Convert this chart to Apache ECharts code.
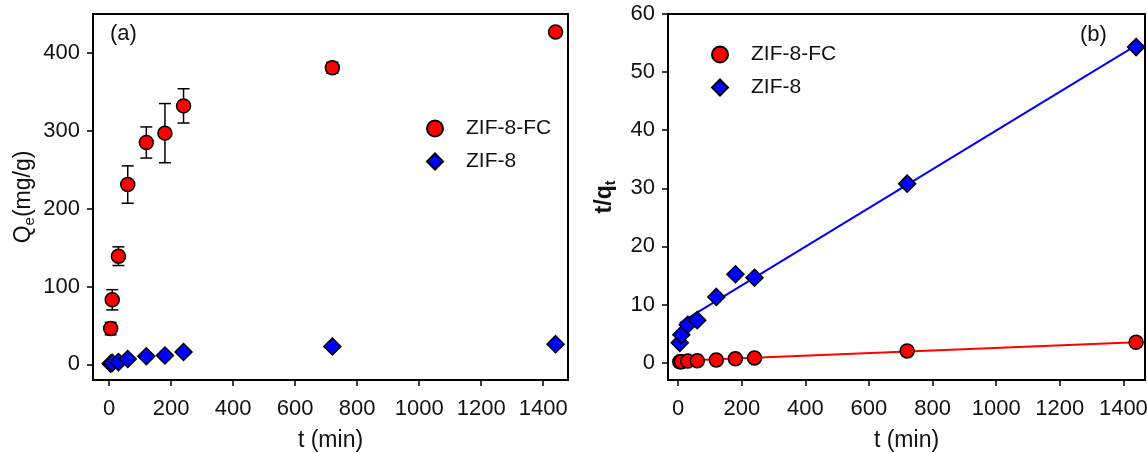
<!DOCTYPE html>
<html>
<head>
<meta charset="utf-8">
<script src="https://cdn.jsdelivr.net/npm/echarts@6/dist/echarts.min.js"></script>
<style>
  html, body { margin: 0; padding: 0; background: #fff; }
  #chart { width: 1147px; height: 453px; }
</style>
</head>
<body>
<div id="chart"></div>
<script>
// Sampling times (min)
const times = [5, 10, 30, 60, 120, 180, 240, 720, 1440];

// (a) adsorption capacity Qe (mg/g)
const qeFC = [46, 83, 139, 231, 285, 297, 332, 381, 427];
const qeFCErr = [8, 13, 12, 24, 20, 38, 22, 7, 3];
const qeZIF8 = [1, 2, 3, 7, 10.5, 11.5, 16, 23, 26];

// (b) pseudo-second-order plot t/qt
const tqFC = [0.15, 0.15, 0.25, 0.3, 0.45, 0.65, 0.8, 2.0, 3.5];
const tqZIF8 = [3.4, 4.8, 6.5, 7.3, 11.3, 15.2, 14.6, 30.8, 54.3];

// linear fits (end points)
const fitT = [5, 1440];
const fitFC = [0.3, 3.5];
const fitZIF8 = [6.8, 54.6];

// tick labels
const xTicks = [0, 200, 400, 600, 800, 1000, 1200, 1400];
const yTicksA = [0, 100, 200, 300, 400];
const yTicksB = [0, 10, 20, 30, 40, 50, 60];

const FONT = '"Liberation Sans", Arial, sans-serif';
const TXT = '#111';
const RED = '#ff0000';
const BLUE = '#0000ff';

const pairs = (xs, ys) => xs.map((x, i) => [x, ys[i]]);

function axisBase(ticks, margin) {
    return {
        type: 'value',
        axisLine: { show: false, onZero: false },
        axisTick: { show: true, customValues: ticks, length: 6, lineStyle: { color: '#000', width: 1.5 } },
        axisLabel: {
            customValues: ticks, color: TXT, fontSize: 22, fontFamily: FONT, margin: margin,
            formatter: v => String(v)
        },
        splitLine: { show: false },
        nameLocation: 'middle',
        nameTextStyle: { color: TXT, fontSize: 23, fontFamily: FONT }
    };
}

function errorBars(params, api) {
    const x = api.value(0), y = api.value(1), e = api.value(2);
    const lo = api.coord([x, y - e]);
    const hi = api.coord([x, y + e]);
    const w = 6;
    const style = { stroke: '#000', lineWidth: 1.5 };
    return {
        type: 'group',
        children: [
            { type: 'line', shape: { x1: lo[0], y1: lo[1], x2: hi[0], y2: hi[1] }, style: style },
            { type: 'line', shape: { x1: lo[0] - w, y1: lo[1], x2: lo[0] + w, y2: lo[1] }, style: style },
            { type: 'line', shape: { x1: hi[0] - w, y1: hi[1], x2: hi[0] + w, y2: hi[1] }, style: style }
        ]
    };
}

const chart = echarts.init(document.getElementById('chart'));

const fcStyle = { color: RED, borderColor: '#000', borderWidth: 1.5, opacity: 1 };
const zStyle = { color: BLUE, borderColor: '#000', borderWidth: 1.5, opacity: 1 };

const legendText = { color: TXT, fontSize: 21, fontFamily: FONT, padding: [0, 0, 0, 18] };

chart.setOption({
    animation: false,
    backgroundColor: '#fff',
    textStyle: { fontFamily: FONT },
    grid: [
        { left: 93, top: 14, width: 475, height: 366, outerBoundsMode: 'none', show: true, borderColor: '#000', borderWidth: 2, backgroundColor: 'transparent' },
        { left: 668, top: 14, width: 477, height: 366, outerBoundsMode: 'none', show: true, borderColor: '#000', borderWidth: 2, backgroundColor: 'transparent' }
    ],
    xAxis: [
        Object.assign(axisBase(xTicks, 18), { gridIndex: 0, min: -52, max: 1480, name: 't (min)', nameGap: 49 }),
        Object.assign(axisBase(xTicks, 18), { gridIndex: 1, min: -32, max: 1468, name: 't (min)', nameGap: 49 })
    ],
    yAxis: [
        Object.assign(axisBase(yTicksA, 13), {
            gridIndex: 0, min: -20, max: 450, nameGap: 56,
            name: '{m|Q}{s|e}{m|(mg/g)}',
            nameTextStyle: {
                color: TXT, fontFamily: FONT,
                rich: {
                    m: { fontSize: 23, color: TXT, fontFamily: FONT },
                    s: { fontSize: 15, color: TXT, fontFamily: FONT, verticalAlign: 'bottom', padding: [12, 0, 0, 0] }
                }
            }
        }),
        Object.assign(axisBase(yTicksB, 13), {
            gridIndex: 1, min: -3, max: 60, nameGap: 50,
            name: '{m|t/q}{s|t}',
            nameTextStyle: {
                color: TXT, fontFamily: FONT,
                rich: {
                    m: { fontSize: 23, fontWeight: 'bold', color: TXT, fontFamily: FONT },
                    s: { fontSize: 14, fontWeight: 'bold', color: TXT, fontFamily: FONT, verticalAlign: 'bottom', padding: [12, 0, 0, 0] }
                }
            }
        })
    ],
    legend: [
        {
            orient: 'vertical', left: 421, top: 113, itemWidth: 16, itemHeight: 16, itemGap: 12,
            selectedMode: false,
            textStyle: legendText,
            data: [{ name: 'ZIF-8-FC', icon: 'circle' }, { name: 'ZIF-8', icon: 'diamond' }]
        },
        {
            orient: 'vertical', left: 706, top: 39, itemWidth: 16, itemHeight: 16, itemGap: 12,
            selectedMode: false,
            textStyle: legendText,
            data: [{ name: 'ZIF-8-FC', icon: 'circle' }, { name: 'ZIF-8', icon: 'diamond' }]
        }
    ],
    graphic: [
        { type: 'text', left: 110, top: 23, style: { text: '(a)', fontSize: 22, fill: TXT, fontFamily: FONT } },
        { type: 'text', left: 1080, top: 24, style: { text: '(b)', fontSize: 22, fill: TXT, fontFamily: FONT } }
    ],
    series: [
        {
            type: 'custom', xAxisIndex: 0, yAxisIndex: 0, z: 1,
            renderItem: errorBars,
            encode: { x: 0, y: 1 },
            data: times.map((t, i) => [t, qeFC[i], qeFCErr[i]])
        },
        {
            name: 'ZIF-8', type: 'scatter', xAxisIndex: 0, yAxisIndex: 0, z: 3,
            symbol: 'diamond', symbolSize: 17, itemStyle: zStyle,
            data: pairs(times, qeZIF8)
        },
        {
            name: 'ZIF-8-FC', type: 'scatter', xAxisIndex: 0, yAxisIndex: 0, z: 4,
            symbol: 'circle', symbolSize: 14, itemStyle: fcStyle,
            data: pairs(times, qeFC)
        },
        {
            type: 'line', xAxisIndex: 1, yAxisIndex: 1, z: 2,
            showSymbol: false, silent: true,
            lineStyle: { color: BLUE, width: 2 },
            data: pairs(fitT, fitZIF8)
        },
        {
            type: 'line', xAxisIndex: 1, yAxisIndex: 1, z: 2,
            showSymbol: false, silent: true,
            lineStyle: { color: RED, width: 2 },
            data: pairs(fitT, fitFC)
        },
        {
            name: 'ZIF-8', type: 'scatter', xAxisIndex: 1, yAxisIndex: 1, z: 3,
            symbol: 'diamond', symbolSize: 17, itemStyle: zStyle,
            data: pairs(times, tqZIF8)
        },
        {
            name: 'ZIF-8-FC', type: 'scatter', xAxisIndex: 1, yAxisIndex: 1, z: 4,
            symbol: 'circle', symbolSize: 14, itemStyle: fcStyle,
            data: pairs(times, tqFC)
        }
    ]
});
</script>
</body>
</html>
